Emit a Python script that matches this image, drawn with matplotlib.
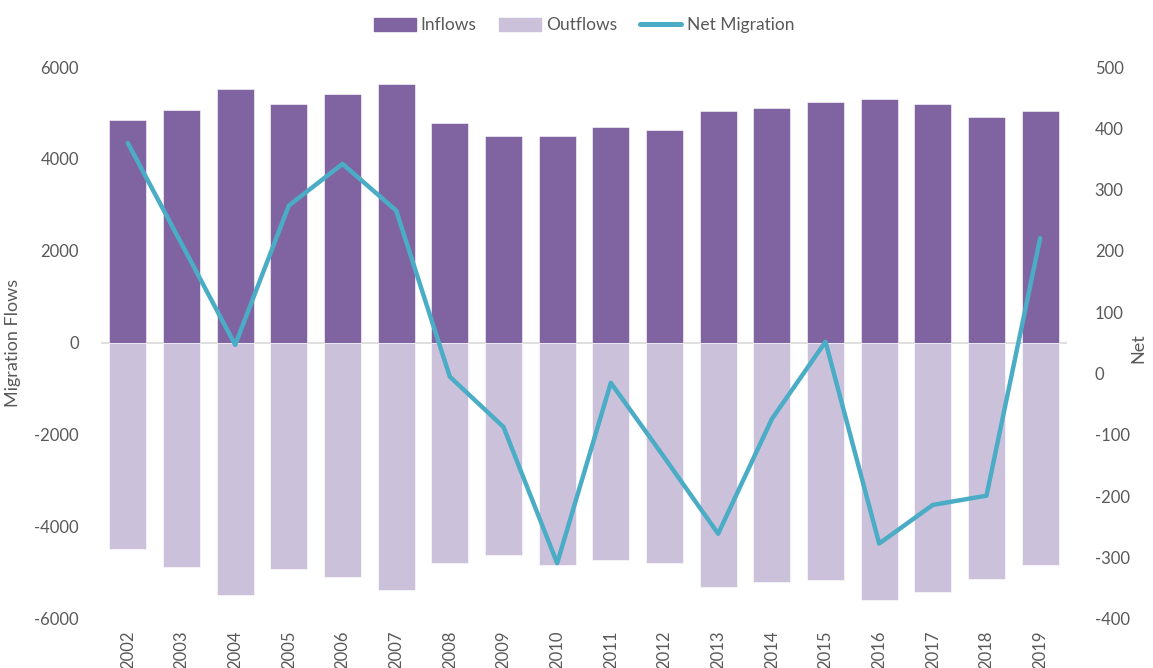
import numpy as np
import matplotlib
matplotlib.use('Agg')
import matplotlib.pyplot as plt
from matplotlib.patches import Patch
from matplotlib.lines import Line2D

# values
years = ['2002', '2003', '2004', '2005', '2006', '2007', '2008', '2009', '2010',
         '2011', '2012', '2013', '2014', '2015', '2016', '2017', '2018', '2019']
inflows = [4840, 5060, 5520, 5200, 5410, 5630, 4780, 4510, 4510,
           4700, 4640, 5040, 5100, 5230, 5300, 5200, 4920, 5040]
outflows = [-4480, -4860, -5470, -4920, -5080, -5370, -4790, -4600, -4820,
            -4720, -4790, -5300, -5190, -5160, -5580, -5410, -5140, -4820]
net = [376, 212, 47, 274, 342, 266, -5, -87, -309,
       -15, -137, -261, -74, 52, -277, -214, -199, 221]

c_in = '#8064A2'
c_out = '#CCC1DA'
c_net = '#4BACC6'
grey = '#595959'

plt.rcParams['font.family'] = ['Lato', 'DejaVu Sans']
plt.rcParams['axes.unicode_minus'] = False

fig = plt.figure(figsize=(11.53, 6.68), dpi=100)
ax = fig.add_axes([0.0876, 0.0734, 0.8378, 0.8263])
x = np.arange(len(years))

ax.bar(x, inflows, width=0.69, color=c_in, edgecolor='white', linewidth=0.4, zorder=2)
ax.bar(x, outflows, width=0.69, color=c_out, edgecolor='white', linewidth=0.4, zorder=2)
ax.axhline(0, color='#D9D9D9', lw=1.2, zorder=1)

ax.set_xlim(-0.5, len(years) - 0.5)
ax.set_ylim(-6000, 6000)
ax.set_yticks(range(-6000, 6001, 2000))
ax.set_xticks(x)
ax.set_xticklabels(years, rotation=90)
ax.tick_params(axis='y', length=0, pad=16, labelsize=12, labelcolor=grey)
ax.tick_params(axis='x', length=0, pad=8, labelsize=12, labelcolor=grey)
ax.set_ylabel('Migration Flows', fontsize=13, color=grey)
ax.yaxis.set_label_coords(-0.083, 0.5)
for s in ax.spines.values():
    s.set_visible(False)

ax2 = ax.twinx()
ax2.plot(x, net, color=c_net, lw=3.2, solid_capstyle='round', solid_joinstyle='round', zorder=3)
ax2.set_ylim(-400, 500)
ax2.set_yticks(range(-400, 501, 100))
ax2.tick_params(axis='y', length=0, pad=20, labelsize=12, labelcolor=grey)
ax2.set_ylabel('Net', fontsize=13, color=grey, rotation=90)
ax2.yaxis.set_label_coords(1.066, 0.49)
for s in ax2.spines.values():
    s.set_visible(False)

handles = [Patch(color=c_in, label='Inflows'),
           Patch(color=c_out, label='Outflows'),
           Line2D([0], [0], color=c_net, lw=3.6, solid_capstyle='round', label='Net Migration')]
leg = fig.legend(handles=handles, loc='center', bbox_to_anchor=(0.5065, 0.962), ncol=3,
                 frameon=False, fontsize=12.5, handlelength=2.4, handleheight=0.75,
                 handletextpad=0.3, columnspacing=1.3)
for t in leg.get_texts():
    t.set_color(grey)

fig.savefig('out.png', dpi=100)
